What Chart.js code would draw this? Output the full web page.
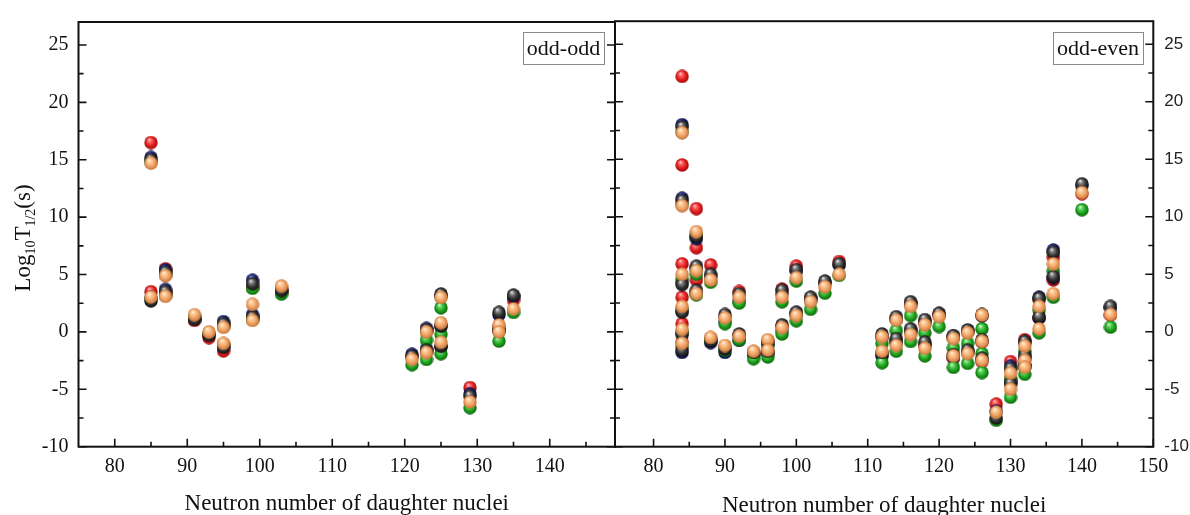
<!DOCTYPE html>
<html><head><meta charset="utf-8">
<script src="https://cdn.jsdelivr.net/npm/chart.js@4.4.1/dist/chart.umd.min.js"></script>
<style>
html,body{margin:0;padding:0;background:#fff;width:1190px;height:515px;overflow:hidden}
canvas{position:absolute;top:0}
#c1{left:0}
#c2{left:605px}
</style></head><body>
<canvas id="c1" width="625" height="515"></canvas>
<canvas id="c2" width="585" height="515"></canvas>
<script>
// ---------- tick labels ----------
const ooXTicks = [80, 90, 100, 110, 120, 130, 140];
const oeXTicks = [80, 90, 100, 110, 120, 130, 140, 150];
const yTicks = [-10, -5, 0, 5, 10, 15, 20, 25];
const xTitle = 'Neutron number of daughter nuclei';

// ---------- odd-odd panel (neutron number of daughter, log10 T1/2 per series) ----------
const ooN      = [85, 85, 87, 87, 91, 93, 95, 95, 99, 99, 103, 121, 123, 123, 125, 125, 125, 129, 133, 133, 135];
const ooRed    = [16.5, 3.5, 5.5, 3.4, 1.0, -0.5, 0.6, -1.65, 3.9, 1.2, 3.5, -2.2, 0.1, -1.7, 3.1, 0.5, -1.3, -4.85, 0.5, 0.1, 2.8];
const ooNavy   = [15.2, 3.0, 5.4, 3.7, 1.2, -0.2, 0.9, -1.2, 4.5, 1.5, 3.7, -1.95, 0.3, -1.5, 3.2, 0.6, -1.2, -5.4, 1.5, 0.1, 3.1];
const ooBlack  = [15.0, 2.7, 5.2, 3.5, 1.1, -0.3, 0.7, -1.35, 4.2, 1.3, 3.6, -2.1, 0.2, -1.6, 3.3, 0.5, -1.25, -5.6, 1.7, 0.2, 3.2];
const ooGreen  = [14.8, 2.9, 5.0, 3.2, 1.3, -0.1, 0.5, -1.1, 3.8, 1.1, 3.3, -2.85, -0.7, -2.4, 2.1, -0.2, -1.9, -6.6, 0.3, -0.8, 1.7];
const ooOrange = [14.7, 3.05, 4.9, 3.1, 1.5, 0.0, 0.4, -1.0, 2.4, 1.0, 4.0, -2.4, 0.0, -1.8, 3.0, 0.8, -0.9, -6.1, 0.6, 0.0, 2.0];

// ---------- odd-even panel ----------
const oeN      = [84, 84, 84, 84, 84, 84, 86, 86, 86, 88, 88, 90, 90, 92, 92, 94, 96, 96, 98, 98, 100, 100, 102, 104, 106,
                  112, 112, 114, 114, 116, 116, 118, 118, 120, 122, 122, 124, 124, 126, 126, 126, 128, 130, 130, 132, 132, 132, 134, 134, 136, 136, 140, 144];
const oeRed    = [22.2, 14.5, 5.9, 3.0, 0.7, -0.9, 10.7, 7.3, 4.5, 5.8, -0.6, 1.3, -1.3, 3.5, -0.3, -1.9, -0.8, -1.8, 3.7, 0.5, 5.7, 1.6, 2.9, 4.3, 6.1,
                  -0.4, -2.0, 1.1, -0.8, 2.4, 0.0, 0.8, -1.2, 1.5, -0.5, -2.3, 0.0, -1.8, 1.4, -0.9, -2.6, -6.3, -2.6, -4.2, -0.7, -2.3, -3.0, 2.8, 1.2, 6.5, 4.5, 12.0, 1.45];
const oeNavy   = [18.0, 11.6, 4.3, 1.8, -0.1, -1.8, 8.1, 5.5, 3.4, 4.8, -0.95, 0.9, -1.8, 2.7, -0.75, -2.0, -1.1, -1.9, 3.3, 0.1, 5.3, 1.5, 2.8, 4.2, 5.8,
                  -0.5, -2.1, 1.1, -0.9, 2.5, 0.1, 0.9, -1.1, 1.5, -0.4, -2.2, 0.1, -1.7, 1.4, -0.8, -2.4, -6.9, -3.0, -4.4, -0.9, -2.2, -3.0, 3.0, 1.2, 7.1, 4.7, 12.7, 2.1];
const oeBlack  = [17.8, 11.4, 4.1, 1.7, -0.25, -1.6, 8.3, 5.7, 3.6, 5.0, -0.8, 1.5, -1.5, 3.3, -0.2, -1.8, -0.9, -1.7, 3.6, 0.6, 5.4, 1.7, 3.0, 4.4, 5.9,
                  -0.2, -1.8, 1.3, -0.6, 2.6, 0.25, 1.05, -0.9, 1.6, -0.35, -2.0, 0.15, -1.6, 1.5, -0.7, -2.3, -7.5, -3.2, -4.5, -0.85, -2.0, -2.9, 2.9, 1.3, 6.9, 4.8, 12.85, 2.2];
const oeGreen  = [17.4, 11.1, 4.6, 2.0, 0.0, -1.3, 8.4, 5.0, 3.2, 4.3, -0.7, 0.7, -1.6, 2.5, -0.7, -2.35, -1.2, -2.2, 2.6, -0.2, 4.4, 0.95, 1.95, 3.35, 4.9,
                  -1.0, -2.7, 0.1, -1.7, 1.4, -0.85, -0.1, -2.1, 0.45, -1.4, -3.1, -1.0, -2.75, 0.25, -1.9, -3.55, -7.7, -4.1, -5.7, -1.7, -3.0, -3.7, 1.9, -0.1, 5.3, 3.0, 10.6, 0.4];
const oeOrange = [17.3, 10.95, 5.0, 2.2, 0.2, -1.0, 8.7, 5.3, 3.3, 4.5, -0.5, 1.2, -1.2, 3.0, -0.4, -1.7, -0.7, -1.6, 3.0, 0.35, 4.7, 1.4, 2.6, 3.9, 5.0,
                  -0.45, -1.7, 1.0, -1.2, 2.2, -0.25, 0.6, -1.45, 1.3, -0.6, -2.1, -0.1, -1.9, 1.45, -0.85, -2.5, -7.0, -3.6, -5.0, -1.25, -2.5, -3.1, 2.2, 0.25, 5.9, 3.3, 12.1, 1.5];

// ---------- styling ----------
const SERIF = '"Liberation Serif", "DejaVu Serif", serif';
const SANS = '"Liberation Sans", Arial, sans-serif';
const sphereColors = {
  red:    ['#ffd0d0', '#ff6a6a', '#e3201f', '#9a0808'],
  navy:   ['#c8d0ff', '#5563b8', '#1b226e', '#070a38'],
  black:  ['#f0f0f0', '#8a8a8a', '#383838', '#0c0c0c'],
  green:  ['#d8ffd8', '#6bd86b', '#1fa81f', '#0a600a'],
  orange: ['#fff3e6', '#ffcf9e', '#f0a468', '#c27035']
};
function makeSphere(c) {
  const d = 14, r = 7;
  const cv = document.createElement('canvas');
  cv.width = d; cv.height = d;
  const g = cv.getContext('2d');
  const grad = g.createRadialGradient(r - 1.8, r - 3.0, 0.3, r, r, r);
  grad.addColorStop(0, c[0]);
  grad.addColorStop(0.22, c[1]);
  grad.addColorStop(0.6, c[2]);
  grad.addColorStop(1, c[3]);
  g.fillStyle = grad;
  g.beginPath(); g.arc(r, r, r - 0.3, 0, Math.PI * 2); g.fill();
  return cv;
}
const spheres = {};
Object.keys(sphereColors).forEach(k => spheres[k] = makeSphere(sphereColors[k]));

function pts(xs, ys) { return xs.map((x, i) => ({ x: x, y: ys[i] })); }
function makeDatasets(xs, seriesMap, orderMap) {
  return Object.keys(seriesMap).map(k => ({
    label: k,
    data: pts(xs, seriesMap[k]),
    pointStyle: spheres[k],
    pointRadius: 7,
    showLine: false,
    order: orderMap[k]
  }));
}

// frame + inward ticks
function frameTicks(xMajor, opts) {
  return {
    id: 'frameTicks',
    afterDatasetsDraw(chart) {
      const { ctx, chartArea: a, scales: { x, y } } = chart;
      ctx.save();
      ctx.strokeStyle = '#111';
      ctx.lineWidth = 2;
      ctx.strokeRect(a.left, a.top, a.right - a.left, a.bottom - a.top);
      ctx.lineWidth = 1.6;
      ctx.beginPath();
      xMajor.forEach(v => {
        const px = x.getPixelForValue(v);
        ctx.moveTo(px, a.bottom); ctx.lineTo(px, a.bottom - 8);
        const m = v + 5;
        if (m < x.max - 1) {
          const pm = x.getPixelForValue(m);
          ctx.moveTo(pm, a.bottom); ctx.lineTo(pm, a.bottom - 5);
        }
      });
      const firstMinor = xMajor[0] - 5;
      if (firstMinor > x.min + 1) {
        const pm = x.getPixelForValue(firstMinor);
        ctx.moveTo(pm, a.bottom); ctx.lineTo(pm, a.bottom - 5);
      }
      yTicks.forEach(v => {
        const py = y.getPixelForValue(v);
        ctx.moveTo(a.left, py); ctx.lineTo(a.left + 8, py);
        ctx.moveTo(a.right, py); ctx.lineTo(a.right - 8, py);
        const m = v + 2.5;
        if (m < y.max) {
          const pm = y.getPixelForValue(m);
          ctx.moveTo(a.left, pm); ctx.lineTo(a.left + 5, pm);
          ctx.moveTo(a.right, pm); ctx.lineTo(a.right - 5, pm);
        }
      });
      ctx.stroke();
      const b = opts.box;
      ctx.fillStyle = '#fff';
      ctx.fillRect(b.x, b.y, b.w, b.h);
      ctx.strokeStyle = '#8a8a8a';
      ctx.lineWidth = 1;
      ctx.strokeRect(b.x + 0.5, b.y + 0.5, b.w, b.h);
      ctx.fillStyle = '#111';
      ctx.font = '22px ' + SERIF;
      ctx.textAlign = 'center';
      ctx.textBaseline = 'middle';
      ctx.fillText(b.text, b.x + b.w / 2, b.y + b.h / 2 + 1);
      if (opts.yTitle) {
        ctx.translate(22, 238);
        ctx.rotate(-Math.PI / 2);
        const parts = [
          { t: 'Log', s: 23, dy: 0 }, { t: '10', s: 14, dy: 5 },
          { t: 'T', s: 23, dy: 0 }, { t: '1/2', s: 14, dy: 5 }, { t: '(s)', s: 23, dy: 0 }
        ];
        let tot = 0;
        parts.forEach(p => { ctx.font = p.s + 'px ' + SERIF; p.w = ctx.measureText(p.t).width; tot += p.w; });
        let cx = -tot / 2;
        ctx.textAlign = 'left';
        ctx.textBaseline = 'alphabetic';
        parts.forEach(p => {
          ctx.font = p.s + 'px ' + SERIF;
          ctx.fillText(p.t, cx, 8 + p.dy);
          cx += p.w;
        });
      }
      ctx.restore();
    }
  };
}

function setTicks(vals) {
  return function (scale) { scale.ticks = vals.map(v => ({ value: v })); };
}

const drawOrder = { orange: 0, black: 1, green: 2, navy: 3, red: 4 };

// ---------- left chart: odd-odd ----------
new Chart(document.getElementById('c1'), {
  type: 'scatter',
  data: {
    datasets: makeDatasets(ooN,
      { red: ooRed, navy: ooNavy, black: ooBlack, green: ooGreen, orange: ooOrange }, drawOrder)
  },
  options: {
    responsive: false,
    animation: false,
    events: [],
    layout: { padding: { top: 14, right: 10, left: 0, bottom: 0 } },
    plugins: { legend: { display: false }, tooltip: { enabled: false } },
    scales: {
      x: {
        type: 'linear', min: 75, max: 149,
        afterBuildTicks: setTicks(ooXTicks),
        afterFit(s) { s.height = 68.3; },
        grid: { display: false, drawTicks: false },
        border: { display: false },
        ticks: { autoSkip: false, maxRotation: 0, padding: 8, color: '#111', font: { family: SERIF, size: 20 } },
        title: { display: true, text: xTitle, color: '#111', font: { family: SERIF, size: 23, lineHeight: 1 }, padding: { top: 0, bottom: 0 } }
      },
      y: {
        type: 'linear', min: -10, max: 27,
        afterBuildTicks: setTicks(yTicks),
        afterFit(s) { s.width = 78.5; },
        grid: { display: false, drawTicks: false },
        border: { display: false },
        ticks: { padding: 10, color: '#111', font: { family: SERIF, size: 20 } }
      }
    }
  },
  plugins: [frameTicks(ooXTicks, { box: { x: 523, y: 32, w: 81, h: 32, text: 'odd-odd' }, yTitle: true })]
});

// ---------- right chart: odd-even ----------
new Chart(document.getElementById('c2'), {
  type: 'scatter',
  data: {
    datasets: makeDatasets(oeN,
      { red: oeRed, navy: oeNavy, black: oeBlack, green: oeGreen, orange: oeOrange }, drawOrder)
  },
  options: {
    responsive: false,
    animation: false,
    events: [],
    layout: { padding: { top: 14, right: 0, left: 10, bottom: 0 } },
    plugins: { legend: { display: false }, tooltip: { enabled: false } },
    scales: {
      x: {
        type: 'linear', min: 74.6, max: 150,
        afterBuildTicks: setTicks(oeXTicks),
        afterFit(s) { s.height = 68.3; },
        grid: { display: false, drawTicks: false },
        border: { display: false },
        ticks: { autoSkip: false, maxRotation: 0, padding: 8, color: '#111', font: { family: SERIF, size: 20 } },
        title: { display: true, text: xTitle, color: '#111', font: { family: SERIF, size: 23, lineHeight: 1 }, padding: { top: 0, bottom: -2 } }
      },
      y: {
        type: 'linear', position: 'right', min: -10, max: 27,
        afterBuildTicks: setTicks(yTicks),
        afterFit(s) { s.width = 36.7; },
        grid: { display: false, drawTicks: false },
        border: { display: false },
        ticks: { padding: 11, color: '#222', font: { family: SANS, size: 17 } }
      }
    }
  },
  plugins: [frameTicks(oeXTicks, { box: { x: 448, y: 32, w: 90, h: 32, text: 'odd-even' }, yTitle: false })]
});
</script>
</body></html>
